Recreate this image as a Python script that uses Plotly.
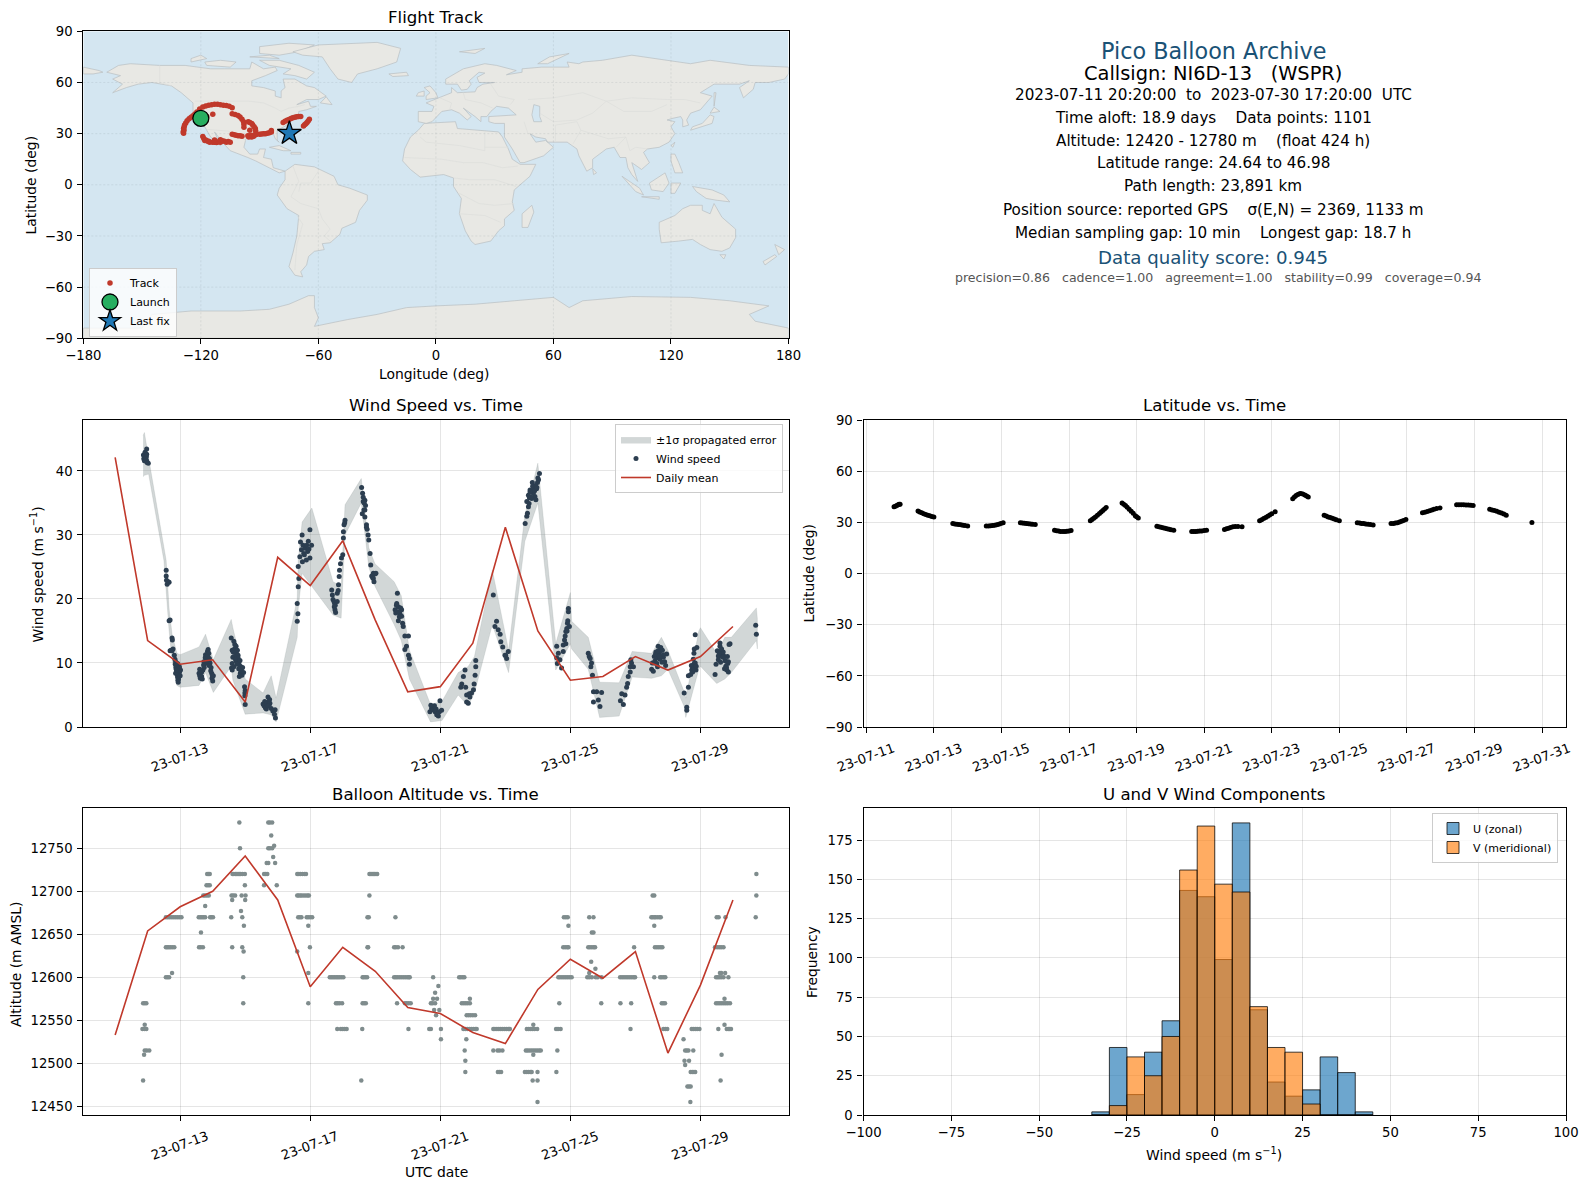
import pandas as pd
import plotly.graph_objects as go

W, H = 1589, 1189
FONT = "DejaVu Sans"

# ----- daily means -----
mean_day = [11, 12, 13, 14, 15, 16, 17, 18, 19, 20, 21, 22, 23, 24, 25, 26, 27, 28, 29, 30]
mean_wind = [42.1, 13.5, 9.8, 10.5, 3.9, 26.5, 22.1, 29.1, 16.7, 5.5, 6.3, 13.1, 31.2, 15.0, 7.3, 7.9, 11.0, 8.9, 11.0, 15.7]
mean_alt = [12533, 12654, 12682, 12700, 12741, 12690, 12589, 12635, 12607, 12565, 12558, 12536, 12523, 12586, 12621, 12599, 12630, 12512, 12591, 12690]

# ----- wind speed points -----
wind_day = [
    11.87, 11.88, 11.90, 11.90, 11.92, 11.93, 11.94, 11.96, 11.97, 11.97, 11.97, 11.98, 12.02,
    12.57, 12.57, 12.58, 12.60, 12.66, 12.63, 12.66, 12.69, 12.75, 12.76, 12.69, 12.75, 12.78, 12.72,
    12.82, 12.84, 12.86, 12.85, 12.87, 12.88, 12.89, 12.90, 12.91, 12.92, 12.93, 12.94, 12.95, 12.96, 12.97, 12.98, 13.00, 13.01,
    13.58, 13.60, 13.62, 13.64, 13.66, 13.68, 13.70, 13.72, 13.74, 13.76, 13.78, 13.80, 13.82, 13.84, 13.86, 13.88, 13.90, 13.92, 13.95, 13.97, 13.98, 14.00, 14.02,
    14.57, 14.65, 14.60, 14.63, 14.67, 14.70, 14.72, 14.74, 14.76, 14.78, 14.60, 14.58, 14.60, 14.65, 14.72, 14.78, 14.80, 14.85, 14.88, 14.92, 14.90, 14.85, 14.82, 14.95, 14.98, 15.00, 14.99, 14.99, 15.00,
    15.55, 15.58, 15.60, 15.62, 15.65, 15.67, 15.70, 15.72, 15.74, 15.76, 15.80, 15.85, 15.90, 15.93, 15.92,
    16.60, 16.60, 16.62, 16.63, 16.65, 16.63, 16.68, 16.75, 16.73, 16.78, 16.76, 16.84, 16.89, 16.94, 16.99, 16.99, 17.04, 16.92, 16.80,
    17.66, 17.68, 17.73, 17.76, 17.78, 17.70, 17.75, 17.83, 17.83, 17.86, 17.87, 17.89, 17.90, 17.93, 17.96, 18.00, 18.02, 18.02, 18.04, 18.07, 18.06,
    18.58, 18.61, 18.63, 18.68, 18.63, 18.68, 18.65, 18.60, 18.68, 18.73, 18.73, 18.75, 18.78, 18.80, 18.84, 18.86, 18.94, 18.89, 18.94, 18.99, 19.02, 18.96, 18.92,
    19.68, 19.66, 19.61, 19.71, 19.81, 19.76, 19.63, 19.81, 19.71, 19.84, 19.86, 19.91, 20.02, 19.96, 19.91, 20.02, 20.05, 20.05,
    20.68, 20.73, 20.78, 20.82, 20.84, 20.89, 20.94, 20.99, 21.04, 20.71, 20.87, 20.97, 20.91,
    21.76, 21.71, 21.66, 21.63, 21.78, 21.81, 21.86, 21.91, 21.96, 22.02, 22.04, 22.07, 22.09, 22.09, 21.81, 21.89,
    22.63, 22.73, 22.68, 22.78, 22.84, 22.86, 22.92, 22.99, 23.04, 23.09, 23.01,
    23.61, 23.66, 23.71, 23.66, 23.76, 23.83, 23.91, 23.96, 24.02, 24.05, 23.81, 23.86, 23.71, 23.78, 23.88, 23.94, 23.74,
    24.58, 24.63, 24.68, 24.73, 24.78, 24.82, 24.84, 24.89, 24.91, 24.94, 24.94, 24.97, 24.58, 24.78, 24.86, 24.60,
    25.55, 25.61, 25.63, 25.68, 25.71, 25.81, 25.96, 25.71, 25.86, 25.91, 25.58, 25.65,
    26.54, 26.58, 26.68, 26.63, 26.78, 26.84, 26.86, 26.94, 26.84, 26.88, 26.73, 26.76,
    27.50, 27.52, 27.58, 27.60, 27.63, 27.66, 27.70, 27.73, 27.75, 27.78, 27.80, 27.83, 27.86, 27.90, 27.93, 27.96, 27.68, 27.76, 27.55,
    28.50, 28.58, 28.58, 28.63, 28.63, 28.73, 28.81, 28.84, 28.89, 28.81, 28.78, 28.70, 28.76, 28.86, 28.80,
    29.45, 29.48, 29.55, 29.60, 29.66, 29.76, 29.81, 29.86, 29.91, 29.60, 29.55, 29.63, 29.72, 29.78, 29.84, 29.52, 29.70, 29.88,
    30.70, 30.72,
    # second pass over the dense clusters
    12.86, 12.89, 12.92, 12.95, 12.98, 13.60, 13.66, 13.73, 13.77, 13.81, 13.85, 13.89, 13.94, 13.99, 14.62, 14.66, 14.70, 14.75, 14.80, 14.84,
    14.87, 14.68, 15.64, 15.70, 15.75, 16.70, 16.82, 16.88, 16.96, 17.74, 17.77, 18.66, 18.70, 19.65, 19.70, 19.74, 19.78,
    23.68, 23.73, 23.76, 23.80, 23.84, 23.90, 23.93, 23.97, 23.99, 24.00, 24.86, 24.90, 24.92,
    27.58, 27.62, 27.66, 27.70, 27.74, 27.78, 27.82, 27.86, 28.72, 28.76, 28.79, 28.84, 28.87,
    29.58, 29.62, 29.65, 29.68, 29.74, 29.77, 29.80, 29.83, 29.86,
]
wind_ms = [
    42.5, 41.9, 41.6, 42.4, 42.9, 41.6, 41.9, 42.2, 42.6, 43.4, 41.6, 41.3, 41.2,
    24.5, 23.6, 22.9, 22.3, 22.6, 22.7, 16.6, 16.7, 13.9, 13.6, 11.9, 11.9, 12.2, 12.0,
    11.2, 10.6, 10.2, 9.8, 9.3, 9.0, 9.5, 8.7, 8.2, 7.8, 7.3, 7.0, 8.3, 9.0, 9.5, 8.6, 8.0, 8.9,
    8.4, 8.0, 7.6, 8.5, 7.9, 7.5, 8.9, 9.7, 9.3, 9.9, 11.3, 11.0, 10.5, 11.8, 12.1, 11.5, 10.7, 10.0, 9.3, 8.4, 7.6, 7.2, 8.0,
    13.9, 13.4, 12.0, 11.7, 12.2, 11.7, 12.6, 11.4, 12.0, 11.2, 9.9, 9.2, 8.9, 9.4, 10.3, 10.8, 9.9, 9.5, 9.0, 9.3, 8.1, 8.4, 7.9, 8.5, 6.3, 5.7, 5.3, 4.9, 3.5,
    3.6, 3.3, 4.0, 3.0, 2.8, 3.7, 4.7, 4.0, 3.5, 3.7, 2.9, 2.5, 2.0, 1.4, 2.7,
    16.5, 19.3, 17.7, 21.9, 23.2, 25.05, 26.6, 30.0, 27.7, 28.4, 25.8, 27.9, 28.4, 29.0, 30.8, 26.4, 28.4, 27.4, 27.1,
    21.4, 20.6, 19.6, 18.3, 17.9, 19.9, 19.3, 19.6, 20.9, 21.3, 22.2, 23.5, 24.5, 25.5, 26.4, 26.9, 29.5, 30.5, 31.6, 32.3, 31.9,
    37.4, 36.5, 35.9, 35.4, 35.2, 33.9, 33.9, 33.3, 32.8, 31.6, 31.2, 30.9, 30.0, 29.2, 27.1, 25.3, 24.0, 23.6, 23.2, 23.9, 24.0, 22.7, 23.3,
    20.9, 19.3, 18.3, 18.8, 18.3, 17.7, 17.8, 17.3, 16.6, 16.2, 15.7, 14.2, 14.2, 12.6, 12.1, 11.2, 10.7, 9.8,
    2.4, 2.9, 2.7, 3.3, 2.4, 1.9, 1.7, 4.1, 2.6, 3.4, 2.8, 2.4, 2.0,
    8.9, 7.9, 6.7, 6.2, 6.2, 5.0, 3.7, 4.7, 5.3, 5.8, 6.7, 8.1, 9.4, 10.4, 3.9, 5.2,
    20.6, 16.5, 15.7, 15.2, 14.5, 13.3, 12.5, 11.2, 10.7, 11.8, 11.2,
    31.8, 32.9, 34.4, 35.2, 37.0, 38.2, 36.0, 37.2, 38.6, 39.6, 35.7, 36.5, 36.2, 36.8, 37.1, 35.5, 35.8,
    12.6, 11.5, 10.5, 9.2, 12.8, 13.6, 14.2, 15.4, 16.2, 18.5, 18.0, 15.7, 10.8, 11.8, 13.0, 9.9,
    11.5, 10.7, 9.4, 8.1, 5.5, 5.5, 5.4, 3.9, 4.2, 3.2, 11.0, 10.0,
    4.1, 5.2, 5.0, 3.5, 7.9, 9.4, 10.5, 9.4, 8.6, 10.0, 6.2, 6.8,
    9.0, 10.0, 11.0, 10.3, 11.7, 10.8, 12.6, 11.5, 10.6, 12.2, 11.0, 12.0, 10.9, 10.2, 9.6, 11.4, 9.4, 11.9, 8.7,
    5.3, 3.1, 2.6, 6.2, 8.0, 8.9, 9.9, 14.4, 12.4, 12.2, 10.6, 8.2, 9.3, 8.9, 11.5,
    8.2, 9.8, 11.1, 12.6, 11.2, 10.4, 8.9, 8.6, 13.0, 13.1, 10.5, 11.8, 11.1, 9.5, 9.9, 11.9, 11.7, 12.9,
    15.9, 14.5,
    8.4, 8.9, 9.9, 7.5, 9.2, 9.0, 8.6, 10.2, 10.8, 10.0, 11.0, 9.6, 8.8, 8.0, 10.9, 11.0, 10.6, 9.8, 9.1, 10.4,
    8.7, 12.9, 3.0, 3.3, 4.3, 28.9, 26.9, 26.1, 27.8, 18.8, 19.0, 35.0, 34.6, 19.0, 18.0, 17.2, 18.6,
    33.4, 34.9, 36.7, 35.9, 37.6, 36.9, 37.7, 37.4, 38.2, 38.9, 14.9, 15.0, 16.6,
    10.0, 11.4, 9.9, 11.9, 11.1, 12.4, 10.1, 11.3, 9.6, 8.6, 9.1, 10.0, 9.5,
    11.5, 10.1, 12.2, 10.9, 9.1, 10.3, 9.3, 11.0, 10.2,
]

# outline of the +/-1 sigma band
band_day = [11.86, 11.90, 12.03, 12.50, 12.57, 12.66, 12.75, 12.90, 13.00, 13.58, 13.78, 14.02, 14.57, 14.62, 15.00, 15.55, 15.80, 15.95,
            16.60, 16.63, 16.75, 17.05, 17.70, 17.95, 18.07, 18.57, 18.80, 18.99, 19.58, 19.80, 20.05, 20.70, 21.05,
            21.55, 21.85, 22.05, 22.60, 23.10, 23.60, 24.00, 24.55, 25.00, 25.04, 25.55, 25.90, 26.50, 26.90,
            27.50, 27.80, 28.00, 28.50, 28.55, 28.95, 29.00, 29.50, 29.75, 29.95, 30.72, 30.75]
band_low = [39.1, 39.3, 39.5, 26.0, 21.5, 15.0, 10.5, 6.5, 6.2, 6.5, 8.5, 5.4, 9.5, 7.3, 2.0, 2.2, 1.9, 0.8,
            14.0, 18.5, 24.0, 22.0, 17.5, 17.0, 30.0, 35.0, 25.0, 22.0, 16.0, 13.5, 7.5, 0.8, 1.0,
            5.0, 3.3, 5.3, 16.0, 8.5, 29.0, 35.0, 8.9, 13.0, 12.2, 9.0, 1.5, 1.7, 7.8,
            7.6, 8.0, 9.0, 3.2, 1.5, 9.0, 9.5, 6.8, 7.5, 8.5, 13.5, 12.2]
band_high = [45.5, 46.0, 42.0, 28.5, 26.0, 18.5, 14.5, 11.5, 11.3, 12.5, 14.5, 10.5, 16.8, 15.5, 7.5, 5.3, 8.0, 4.5,
             20.0, 26.0, 32.0, 34.2, 22.7, 22.0, 34.7, 38.8, 28.0, 25.5, 22.7, 20.5, 12.0, 3.5, 4.0,
             8.5, 9.4, 11.0, 24.5, 12.0, 33.0, 41.2, 13.0, 21.0, 16.5, 14.0, 7.0, 6.9, 11.8,
             11.5, 14.0, 12.0, 5.5, 4.5, 15.0, 15.5, 11.5, 14.0, 14.0, 18.6, 17.0]

# ----- latitude vs time -----
lat_day = [
    11.82, 11.86, 11.90, 11.94, 11.97, 12.00,
    12.53, 12.58, 12.64, 12.70, 12.76, 12.82, 12.88, 12.94, 13.00,
    13.56, 13.62, 13.68, 13.74, 13.80, 13.86, 13.92, 14.00,
    14.55, 14.62, 14.68, 14.74, 14.80, 14.86, 14.92, 14.98, 15.05,
    15.56, 15.62, 15.68, 15.74, 15.80, 15.86, 15.92, 16.00,
    16.57, 16.63, 16.69, 16.75, 16.82, 16.88, 16.94, 17.00, 17.06,
    17.63, 17.68, 17.73, 17.78, 17.84, 17.90, 17.95, 18.00, 18.05, 18.10,
    18.57, 18.62, 18.67, 18.72, 18.78, 18.84, 18.90, 18.96, 19.00, 19.05,
    19.60, 19.66, 19.72, 19.78, 19.84, 19.90, 19.96, 20.02, 20.10,
    20.63, 20.69, 20.75, 20.81, 20.87, 20.93, 21.00, 21.07,
    21.60, 21.66, 21.72, 21.78, 21.85, 21.92, 22.00, 22.12,
    22.64, 22.70, 22.76, 22.82, 22.88, 22.94, 23.00, 23.10,
    23.62, 23.67, 23.72, 23.77, 23.82, 23.86, 23.92, 23.98, 24.03, 24.08,
    24.55, 24.61, 24.67, 24.73, 24.79, 24.85, 24.91, 25.00,
    25.53, 25.60, 25.66, 25.72, 25.78, 25.85, 25.92, 26.00,
    26.53, 26.60, 26.66, 26.72, 26.78, 26.84, 26.90, 26.97,
    27.46, 27.53, 27.60, 27.67, 27.74, 27.80, 27.88, 27.98,
    28.47, 28.54, 28.61, 28.68, 28.75, 28.82, 28.89, 28.96,
    29.45, 29.52, 29.59, 29.66, 29.73, 29.80, 29.87, 29.94,
    30.70,
]
lat_deg = [
    39.2, 39.6, 40.0, 40.4, 40.7, 40.8,
    36.8, 36.2, 35.7, 35.2, 34.7, 34.3, 34.0, 33.6, 33.3,
    29.4, 29.2, 29.0, 28.9, 28.7, 28.4, 28.2, 28.0,
    28.0, 28.0, 28.1, 28.2, 28.4, 28.7, 29.0, 29.4, 29.8,
    29.8, 29.7, 29.6, 29.5, 29.3, 29.1, 29.0, 28.8,
    25.5, 25.2, 25.0, 24.7, 24.7, 24.8, 24.9, 25.1, 25.3,
    31.0, 31.8, 32.5, 33.3, 34.3, 35.3, 36.2, 37.1, 38.0, 38.8,
    41.5, 40.8, 40.0, 39.0, 37.8, 36.6, 35.4, 34.0, 33.4, 32.7,
    27.8, 27.5, 27.2, 26.9, 26.6, 26.4, 26.1, 25.8, 25.5,
    24.7, 24.7, 24.8, 24.9, 25.0, 25.1, 25.3, 25.5,
    25.9, 26.3, 26.7, 27.1, 27.5, 27.6, 27.6, 27.5,
    31.0, 31.7, 32.4, 33.0, 33.7, 34.4, 35.1, 36.3,
    44.0, 45.0, 45.8, 46.5, 46.9, 47.0, 46.7, 46.2, 45.6, 45.0,
    34.3, 33.8, 33.3, 32.9, 32.5, 32.1, 31.7, 31.0,
    29.8, 29.7, 29.5, 29.4, 29.2, 29.0, 28.8, 28.6,
    29.4, 29.5, 29.7, 29.9, 30.3, 30.7, 31.2, 31.8,
    35.7, 36.1, 36.5, 36.9, 37.4, 37.8, 38.2, 38.6,
    40.4, 40.4, 40.4, 40.4, 40.3, 40.3, 40.1, 40.0,
    37.8, 37.4, 37.0, 36.6, 36.1, 35.6, 35.0, 34.3,
    30.0,
]

# ----- altitude points, one list of days per reported level -----
alt_levels = {
    12780: [14.82, 15.71, 15.76, 15.83],
    12765: [15.80],
    12753: [15.89],
    12750: [14.84, 15.71, 15.76, 15.83],
    12740: [15.86],
    12733: [15.66, 15.71, 15.92],
    12720: [13.83, 13.87, 13.91, 14.61, 14.65, 14.70, 14.74, 14.78, 14.82, 14.86, 14.92, 14.99, 15.58, 15.63, 15.68, 16.60, 16.65, 16.70,
            16.76, 16.82, 16.87, 18.82, 18.86, 18.90, 18.94, 18.98, 19.02, 19.06, 30.72],
    12707: [13.81, 13.86, 13.91, 14.99, 15.58, 15.97],
    12695: [13.71, 13.76, 13.82, 13.88, 14.58, 14.63, 14.69, 14.89, 15.01, 16.60, 16.64, 16.69, 16.74, 16.80, 16.86, 16.92, 16.96, 18.82, 27.53, 27.58, 30.72],
    12690: [14.60, 15.00],
    12683: [13.77],
    12677: [14.87],
    12670: [12.56, 12.62, 12.68, 12.74, 12.80, 12.86, 12.92, 12.98, 13.04, 13.57, 13.62, 13.67, 13.72, 13.77, 13.92, 13.96, 14.01, 14.57, 14.91,
            16.63, 16.68, 16.73, 16.89, 16.94, 17.00, 17.06, 18.76, 18.80, 19.62, 24.80, 24.86, 24.92, 25.58, 25.71,
            27.49, 27.53, 27.58, 27.62, 27.68, 27.74, 27.78, 29.50, 29.56, 29.77, 30.70],
    12660: [14.96, 16.94, 24.94, 27.58],
    12652: [13.64, 25.66, 25.71],
    12635: [12.56, 12.60, 12.65, 12.70, 12.76, 12.82, 13.58, 13.63, 13.70, 14.60, 14.91, 16.99, 18.76, 18.78, 19.58, 19.63, 19.70, 19.84,
            24.78, 24.84, 24.90, 24.94, 25.55, 25.60, 25.66, 25.72, 25.76, 26.96, 27.60, 27.66, 27.72, 27.78, 27.83, 29.45, 29.52, 29.58, 29.64, 29.71],
    12630: [14.95, 16.60],
    12618: [25.64],
    12610: [25.77],
    12605: [12.75, 16.94, 25.58, 29.60, 29.64, 29.76],
    12600: [12.56, 12.61, 12.66, 14.94, 17.60, 17.65, 17.70, 17.75, 17.80, 17.85, 17.90, 17.96, 18.02, 18.61, 18.65, 18.70, 18.75,
            19.58, 19.63, 19.68, 19.74, 19.80, 19.86, 19.92, 19.98, 20.03, 20.06, 20.78, 21.58, 21.63, 21.69, 21.74,
            24.63, 24.68, 24.74, 24.80, 24.86, 24.92, 24.98, 25.04, 25.52, 25.58, 25.66, 25.78, 25.84, 25.96,
            26.53, 26.59, 26.65, 26.71, 26.77, 26.83, 26.89, 26.95, 26.99, 27.58, 27.76, 27.81, 27.87, 27.92,
            29.48, 29.53, 29.58, 29.64, 29.71, 29.86],
    12590: [20.94],
    12582: [20.84],
    12575: [29.74, 20.78, 20.90, 21.91],
    12570: [11.86, 11.91, 11.96, 14.94, 16.94, 17.79, 17.84, 17.90, 17.98, 18.61, 18.66, 18.71, 19.67, 19.91, 19.96, 20.02, 20.09,
            20.71, 20.76, 20.84, 21.66, 21.72, 21.78, 21.84, 21.91, 24.66, 25.95, 26.54, 26.87, 27.81, 27.86, 27.91,
            29.48, 29.54, 29.60, 29.66, 29.72, 29.78, 29.84, 29.91],
    12562: [20.81, 20.97],
    12556: [20.87, 21.81, 21.87, 21.93, 22.00, 22.07],
    12545: [11.91, 23.86, 29.74],
    12540: [11.84, 11.90, 11.96, 17.83, 17.94, 18.00, 18.06, 18.12, 18.60, 20.02, 20.66, 20.71, 21.02, 21.71, 21.77, 21.83, 21.90, 21.96, 22.02, 22.08, 22.12,
            22.63, 22.68, 22.74, 22.80, 22.86, 22.92, 22.98, 23.04, 23.10, 23.14, 23.66, 23.72, 23.78, 23.84, 23.90, 23.98, 24.56, 24.62, 24.70,
            26.85, 27.86, 27.92, 27.98, 28.73, 28.78, 28.84, 28.90, 28.97, 29.55, 29.81, 29.86, 29.90, 29.94],
    12528: [21.02, 21.80, 28.48],
    12515: [11.91, 11.97, 12.05, 21.75, 22.63, 22.76, 22.82, 22.91, 23.63, 23.68, 23.74, 23.80, 23.86, 23.92, 23.98, 24.04, 24.09, 24.60, 28.53, 28.58, 28.63, 28.78],
    12510: [11.89, 23.86, 29.65],
    12503: [21.77, 28.51, 28.65],
    12498: [28.53],
    12490: [21.77, 22.77, 22.82, 22.87, 23.60, 23.66, 23.72, 23.78, 23.81, 23.99, 24.57, 28.70, 28.75, 28.80, 28.84],
    12480: [11.86, 18.57, 23.84, 23.99, 29.62],
    12473: [28.60, 28.65, 28.70],
    12455: [23.99, 28.69],
}

# ----- histogram -----
hist_bin = [-32.5, -27.5, -22.5, -17.5, -12.5, -7.5, -2.5, 2.5, 7.5, 12.5, 17.5, 22.5, 27.5, 32.5, 37.5, 42.5]
hist_u = [2, 43, 13, 40, 60, 143, 139, 99, 186, 67, 21, 12, 16, 37, 27, 2]
hist_v = [0, 6, 37, 25, 50, 156, 184, 147, 142, 69, 43, 40, 7, 0, 0, 0]

# ----- map track -----
track_lon = [-119.6, -117, -113.9,
             -128.8, -129, -128.6, -128.8, -128.5, -128.3, -127.7, -127, -126, -125, -124, -123, -122,
             -120.6, -119, -117.5, -116, -114.5, -113, -111.5, -110, -108.5, -107, -105.5, -104,
             -104, -102.5, -101, -100, -99, -98.2, -98, -98,
             -95.8, -95, -94, -93.5, -92.8, -92.2, -92, -92, -93, -94, -95.5, -95,
             -104, -103, -102, -101, -100, -99,
             -96, -95, -94, -93, -92,
             -90, -89, -88, -87, -86, -85, -84, -84,
             -119, -118.5, -117.5, -116.5, -115.5, -114, -113, -112, -111, -110, -109, -108, -107, -106, -105, -118, -116, -113, -110,
             -78, -77, -76, -75, -74, -73, -72, -71, -70, -69,
             -67.6, -67, -66.4, -65.8, -65.2, -64.6]
track_lat = [39, 40, 41.3,
             30.2, 31, 32, 33, 34, 35, 36.2, 37.5, 38.7, 39.6, 40.5, 41.5, 42.7,
             44.5, 45.6, 46.2, 46.7, 47, 47.2, 47.2, 47, 46.7, 46.5, 46, 45.2,
             41.7, 41.2, 40.6, 39.7, 38.5, 37, 35.5, 33.8,
             37, 36.5, 36, 35, 34, 33, 31.5, 29.5, 28.5, 28, 28, 32,
             29.7, 29.3, 29, 28.8, 28.7, 28.5,
             28.7, 28.7, 28.9, 29, 29.4,
             29.7, 29.8, 29.9, 30, 30.2, 30.5, 31, 31.8,
             28.3, 27.2, 26.3, 25.6, 25, 24.9, 25, 24.8, 25.2, 25, 25.8, 25.6, 25, 25.4, 25,
             26, 25.6, 26.2, 26.4,
             36.5, 37.2, 37.8, 38.3, 38.8, 39.3, 39.6, 39.9, 40, 40,
             34.5, 35.2, 35.8, 36.6, 37.4, 38.4]
launch_lon, launch_lat = [-120], [39]
last_lon, last_lat = [-74.8], [30.2]

# ----- land outlines -----
land = {
    "north_america": [(-168, 66), (-165, 68), (-162, 70), (-156, 71), (-141, 70), (-128, 70), (-115, 68), (-108, 68), (-95, 68), (-94, 72), (-88, 68), (-82, 69), (-81, 67), (-87, 64), (-94, 61), (-94, 58), (-88, 57), (-82, 55), (-82, 52), (-79, 51), (-79, 55), (-77, 57), (-78, 62), (-72, 62), (-66, 58), (-62, 57), (-56, 52), (-60, 50), (-66, 50), (-71, 47), (-65, 49), (-64, 46), (-61, 46), (-66, 44), (-70, 43), (-70, 41.5), (-74, 40.5), (-76, 37), (-76, 35), (-81, 32), (-81, 26), (-80, 25), (-82, 27), (-83, 30), (-90, 30), (-94, 29), (-97, 27), (-98, 22), (-95, 18), (-91, 18), (-90, 21), (-87, 21), (-88, 16), (-84, 15), (-83, 10), (-80, 9), (-77, 8), (-80, 7), (-85, 10), (-92, 14), (-96, 16), (-105, 20), (-109, 25), (-113, 31), (-110, 23), (-115, 28), (-118, 34), (-123, 38), (-124, 43), (-124, 48), (-130, 54), (-135, 58), (-145, 60), (-152, 59), (-158, 57), (-165, 54), (-160, 59), (-165, 62), (-161, 64)],
    "baffin": [(-80, 73), (-70, 70), (-62, 66), (-66, 62), (-72, 64), (-78, 65), (-74, 68), (-85, 70), (-90, 73)],
    "victoria": [(-117, 70), (-105, 69), (-102, 72), (-110, 73), (-118, 72)],
    "ellesmere": [(-90, 77), (-80, 76), (-70, 78), (-62, 82), (-75, 83), (-90, 81)],
    "banks": [(-125, 72), (-117, 74), (-120, 76), (-125, 74)],
    "devon": [(-95, 75), (-80, 74), (-85, 76)],
    "greenland": [(-73, 78), (-60, 82), (-30, 83.5), (-18, 80), (-20, 72), (-30, 68), (-40, 65), (-43, 60), (-50, 62), (-54, 68), (-58, 75), (-68, 76)],
    "newfoundland": [(-59, 48), (-53, 47), (-56, 51.6)],
    "cuba": [(-85, 22), (-80, 23), (-74, 20), (-78, 20)],
    "hispaniola": [(-74, 19), (-69, 19), (-69, 18), (-74, 18)],
    "south_america": [(-77, 8), (-72, 12), (-62, 10.5), (-52, 5), (-50, 0), (-44, -2), (-35, -6), (-35, -9), (-39, -15), (-41, -22), (-48, -25.5), (-49, -29), (-54, -34), (-58, -34.5), (-57, -38), (-62, -39), (-65, -42), (-66, -47), (-69, -51), (-68, -54), (-72, -53), (-75, -48), (-73, -40), (-71, -30), (-70, -18), (-76, -14), (-81, -6), (-80, -2), (-77, 3)],
    "africa": [(-6, 36), (10, 37), (11, 33), (20, 32), (25, 31.5), (32, 31), (34, 28), (37, 21), (39, 15), (43, 12), (51, 12), (48, 5), (40, -3), (39, -10), (40, -15), (35, -20), (35, -24), (32, -27), (28, -33), (20, -35), (18, -33), (15, -27), (12, -17), (13, -8), (9, -1), (9, 4), (4, 6), (-4, 5), (-8, 4.5), (-13, 9), (-17, 14), (-16, 21), (-13, 28), (-9, 32)],
    "madagascar": [(49, -12), (50, -16), (47, -25), (44, -25), (44, -17)],
    "eurasia": [(-9, 37), (-9, 43), (-2, 43), (-1, 46), (-5, 48), (2, 51), (8, 54), (8, 57), (11, 54), (20, 54.5), (21, 57), (24, 59), (30, 60), (22, 60), (21, 63), (25, 65.5), (22, 66), (17, 61), (18, 59), (16, 56), (13, 55.5), (11, 59), (5, 59), (5, 62), (14, 68), (25, 71), (31, 70), (41, 67), (36, 64.5), (44, 66), (44, 68), (54, 69), (68, 69), (67, 72), (73, 71), (75, 72), (85, 73), (100, 76), (113, 74), (130, 71), (140, 73), (160, 70), (180, 69), (180, 65), (178, 62), (170, 60), (163, 60), (162, 56), (157, 51), (155, 57), (160, 61), (155, 59), (142, 59), (135, 54), (141, 52), (135, 44), (130, 42), (128, 38), (129, 35), (126, 34), (126, 38), (125, 40), (121, 39), (118, 38), (122, 37), (120, 34), (122, 30), (119, 25), (114, 22), (108, 21), (106, 19), (109, 13), (105, 9), (100, 13), (103, 2), (100, 6), (98, 10), (97, 16), (94, 16), (91, 22), (87, 21), (80, 15), (80, 10), (77, 8), (73, 17), (72, 21), (67, 25), (57, 25), (56, 27), (51, 28), (48, 30), (51, 25), (56, 26), (60, 22), (55, 17), (45, 13), (43, 13), (39, 21), (35, 28), (35, 36), (30, 36), (27, 37), (27, 40), (41, 41), (37, 45), (31, 46), (28, 43), (26, 40), (23, 40), (23, 37), (20, 40), (14, 45), (18, 40), (16, 38), (12, 42), (8, 44), (3, 43), (0, 39), (-2, 37), (-5, 36)],
    "chukotka": [(-180, 69), (-172, 67), (-170, 66), (-175, 65), (-180, 65)],
    "uk": [(-5, 50), (1, 51), (0, 54), (-3, 58), (-6, 57), (-3, 54), (-5, 52)],
    "ireland": [(-10, 52), (-6, 52), (-6, 55), (-9, 54)],
    "iceland": [(-24, 65), (-15, 66), (-14, 64), (-22, 63.5)],
    "svalbard": [(12, 78), (25, 80), (20, 77)],
    "novaya_zemlya": [(52, 71), (57, 71), (68, 77), (58, 75)],
    "sri_lanka": [(80, 9.5), (82, 7), (80.5, 6)],
    "sumatra": [(95, 5), (104, -2), (106, -6), (102, -4)],
    "java": [(105, -7), (114, -7), (114, -8.5), (106, -7.5)],
    "borneo": [(109, 1), (117, 7), (119, 1), (116, -4), (110, -3)],
    "sulawesi": [(120, 1), (125, 1), (122, -5), (120, -5)],
    "new_guinea": [(131, -1), (141, -3), (147, -6), (150, -10), (143, -9), (138, -8), (133, -4)],
    "philippines": [(120, 18), (122, 18), (124, 13), (126, 7), (122, 7), (120, 14)],
    "honshu": [(130, 32), (136, 34), (141, 36), (142, 40), (140, 41), (136, 36), (131, 34)],
    "hokkaido": [(140, 42), (145, 43), (142, 45.5)],
    "sakhalin": [(142, 46), (143, 54), (142, 54)],
    "taiwan": [(120, 23), (122, 25), (121, 22)],
    "australia": [(114, -22), (122, -18), (126, -14), (130, -12), (136, -12), (136, -15), (140, -17), (142, -11), (146, -19), (153, -26), (153, -31), (150, -37), (146, -39), (140, -38), (135, -35), (131, -32), (124, -33), (115, -34), (114, -26)],
    "tasmania": [(145, -41), (148, -41), (147, -43.5)],
    "nz_north": [(173, -35), (178, -38), (175, -41)],
    "nz_south": [(173, -41), (174, -42), (168, -47), (167, -45)],
    "antarctica": [(-180, -90), (-180, -84), (-150, -84), (-145, -76), (-125, -74), (-100, -74), (-85, -73), (-75, -70), (-65, -65), (-62, -65), (-62, -72), (-60, -78), (-62, -83), (-45, -79), (-30, -76), (-15, -72), (0, -71), (20, -70), (40, -68), (60, -66), (68, -72), (75, -68), (100, -65.5), (130, -66), (150, -68), (170, -71), (160, -76), (163, -80), (180, -84), (180, -90)],
}
caspian = [(50, 47), (53, 46), (53, 40), (54, 37), (50, 37), (49, 41)]

borders = [
    [(-123, 49), (-95, 49), (-88, 48), (-82, 45), (-79, 43), (-75, 45), (-70, 46), (-67, 47)],
    [(-141, 70), (-141, 60), (-135, 58)],
    [(-117, 32.5), (-106, 31.5), (-97, 26)],
    [(-73, 11), (-70, 2), (-74, -7), (-69, -11), (-60, -14), (-58, -20), (-54, -26), (-57, -30), (-53, -34)],
    [(-71, -18), (-68, -23), (-71, -35), (-72, -50)],
    [(-60, 8), (-64, 1), (-69, 1), (-70, -4)],
    [(-8, 28), (-5, 25), (12, 23), (25, 20), (25, 31)],
    [(25, 22), (37, 22)],
    [(-16, 16), (3, 15), (14, 13), (24, 13), (34, 10), (42, 11)],
    [(9, 4), (17, 3), (30, 3), (41, -1)],
    [(12, -5), (22, -11), (30, -12), (40, -11)],
    [(12, -17), (25, -18), (33, -22)],
    [(2, 51), (8, 48), (7, 44)],
    [(14, 54), (15, 50), (23, 48), (29, 45)],
    [(28, 59), (32, 52), (40, 50), (38, 47)],
    [(47, 50), (60, 51), (75, 54), (87, 49), (100, 51), (118, 50), (127, 50), (135, 48)],
    [(87, 49), (96, 43), (110, 43), (118, 47)],
    [(53, 42), (60, 37), (72, 38), (80, 42), (87, 49)],
    [(45, 37), (47, 30)],
    [(61, 25), (61, 35), (72, 37), (74, 32), (70, 24)],
    [(74, 32), (80, 30), (88, 27), (97, 28), (92, 22)],
    [(97, 28), (99, 20), (102, 22), (108, 21)],
]

graticule_lon = [-120, -60, 0, 60, 120]
graticule_lat = [-60, -30, 0, 30, 60]


def to_date(days):
    return pd.Timestamp("2023-07-01") + pd.to_timedelta([d - 1 for d in days], unit="D")


def dom_x(left, right):
    return [left / W, right / W]


def dom_y(top, bottom):
    return [1 - bottom / H, 1 - top / H]


fig = go.Figure()

# map panel: land, coast, graticule, track
for name, pts in land.items():
    fig.add_trace(go.Scatter(x=[p[0] for p in pts] + [pts[0][0]], y=[p[1] for p in pts] + [pts[0][1]],
                             mode="lines", fill="toself", fillcolor="#e8e8e4",
                             line=dict(color="#b9bfc2", width=0.7), hoverinfo="skip", showlegend=False, xaxis="x", yaxis="y"))
fig.add_trace(go.Scatter(x=[p[0] for p in caspian] + [caspian[0][0]], y=[p[1] for p in caspian] + [caspian[0][1]],
                         mode="lines", fill="toself", fillcolor="#d4e6f1",
                         line=dict(color="#b9bfc2", width=0.7), showlegend=False, xaxis="x", yaxis="y"))
for seg in borders:
    fig.add_trace(go.Scatter(x=[p[0] for p in seg], y=[p[1] for p in seg], mode="lines",
                             line=dict(color="#dcdedb", width=0.7), showlegend=False, xaxis="x", yaxis="y"))
for lon in graticule_lon:
    fig.add_trace(go.Scatter(x=[lon, lon], y=[-90, 90], mode="lines", line=dict(color="rgba(120,130,135,0.22)", width=0.7, dash="2px,2px"),
                             showlegend=False, xaxis="x", yaxis="y"))
for lat in graticule_lat:
    fig.add_trace(go.Scatter(x=[-180, 180], y=[lat, lat], mode="lines", line=dict(color="rgba(120,130,135,0.22)", width=0.7, dash="2px,2px"),
                             showlegend=False, xaxis="x", yaxis="y"))
fig.add_trace(go.Scatter(x=track_lon, y=track_lat, mode="markers", name="Track", marker=dict(color="#c0392b", size=5.5),
                         xaxis="x", yaxis="y", legend="legend"))
fig.add_trace(go.Scatter(x=launch_lon, y=launch_lat, mode="markers", name="Launch",
                         marker=dict(color="#27ae60", size=16, line=dict(color="black", width=1.3)), xaxis="x", yaxis="y", legend="legend"))
fig.add_trace(go.Scatter(x=last_lon, y=last_lat, mode="markers", name="Last fix",
                         marker=dict(color="#1f77b4", size=18, symbol="star", line=dict(color="black", width=1.3)), xaxis="x", yaxis="y", legend="legend"))

# wind speed
band_x = list(to_date(band_day)) + list(to_date(band_day))[::-1]
fig.add_trace(go.Scatter(x=band_x, y=band_high + band_low[::-1], mode="lines", fill="toself", fillcolor="rgba(127,140,141,0.35)",
                         line=dict(width=0.5, color="rgba(127,140,141,0.35)"), name="±1σ propagated error",
                         xaxis="x2", yaxis="y2", legend="legend2"))
fig.add_trace(go.Scatter(x=to_date(wind_day), y=wind_ms, mode="markers", name="Wind speed", marker=dict(color="#2c3e50", size=5),
                         xaxis="x2", yaxis="y2", legend="legend2"))
fig.add_trace(go.Scatter(x=to_date(mean_day), y=mean_wind, mode="lines", name="Daily mean", line=dict(color="#c0392b", width=1.6),
                         xaxis="x2", yaxis="y2", legend="legend2"))

# latitude
fig.add_trace(go.Scatter(x=to_date(lat_day), y=lat_deg, mode="markers", marker=dict(color="black", size=5),
                         showlegend=False, xaxis="x3", yaxis="y3"))

# altitude
alt_day = [d for days in alt_levels.values() for d in days]
alt_m = [lvl for lvl, days in alt_levels.items() for _ in days]
fig.add_trace(go.Scatter(x=to_date(alt_day), y=alt_m, mode="markers", marker=dict(color="#7f8c8d", size=4.5),
                         showlegend=False, xaxis="x4", yaxis="y4"))
fig.add_trace(go.Scatter(x=to_date(mean_day), y=mean_alt, mode="lines", line=dict(color="#c0392b", width=1.6),
                         showlegend=False, xaxis="x4", yaxis="y4"))

# histogram
fig.add_trace(go.Bar(x=hist_bin, y=hist_u, width=5, name="U (zonal)", marker=dict(color="rgba(31,119,180,0.65)", line=dict(color="rgba(0,0,0,0.75)", width=1)),
                     xaxis="x5", yaxis="y5", legend="legend3"))
fig.add_trace(go.Bar(x=hist_bin, y=hist_v, width=5, name="V (meridional)", marker=dict(color="rgba(255,127,14,0.65)", line=dict(color="rgba(0,0,0,0.75)", width=1)),
                     xaxis="x5", yaxis="y5", legend="legend3"))

DAY_MS = 86400000
axis_style = dict(showline=True, mirror=True, linecolor="black", linewidth=1.2, ticks="outside", ticklen=5, tickcolor="black", automargin=False,
                  tickfont=dict(size=13.2, color="black"), gridcolor="rgba(0,0,0,0.1)", zeroline=False)
y_style = dict(ticklabelstandoff=2, **axis_style)
date_x = dict(type="date", tickformat="%y-%m-%d", tickangle=-20, ticklabelshift=27, ticklabelstandoff=3, **axis_style)

L1, R1 = 83.3, 788.5
L2, R2 = 863.5, 1566
wind_range = ["2023-07-10 00:30", "2023-07-31 17:00"]
legend_style = dict(bgcolor="rgba(255,255,255,0.8)", bordercolor="#cccccc", borderwidth=1, font=dict(size=11), itemwidth=30, tracegroupgap=0)

fig.update_layout(
    width=W, height=H, margin=dict(l=0, r=0, t=0, b=0, autoexpand=False), paper_bgcolor="white", plot_bgcolor="white",
    font=dict(family=FONT, color="black"), barmode="overlay",
    xaxis=dict(domain=dom_x(L1, R1), range=[-180, 180], tickvals=[-180, -120, -60, 0, 60, 120, 180], ticktext=["−180", "−120", "−60", "0", "60", "120", "180"],
               anchor="y", showgrid=False, **axis_style),
    yaxis=dict(domain=dom_y(31.3, 338.3), range=[-90, 90], tickvals=[-90, -60, -30, 0, 30, 60, 90], ticktext=["−90", "−60", "−30", "0", "30", "60", "90"],
               anchor="x", showgrid=False, **y_style),
    xaxis2=dict(domain=dom_x(L1, R1), range=wind_range, tick0="2023-07-13", dtick=4 * DAY_MS, anchor="y2", **date_x),
    yaxis2=dict(domain=dom_y(420.3, 727), range=[0, 47.9], tickvals=[0, 10, 20, 30, 40], anchor="x2", **y_style),
    xaxis3=dict(domain=dom_x(L2, R2), range=["2023-07-10 22:00", "2023-07-31 17:00"], tick0="2023-07-11", dtick=2 * DAY_MS, anchor="y3", **date_x),
    yaxis3=dict(domain=dom_y(420.3, 727), range=[-90, 90], tickvals=[-90, -60, -30, 0, 30, 60, 90], ticktext=["−90", "−60", "−30", "0", "30", "60", "90"],
                anchor="x3", **y_style),
    xaxis4=dict(domain=dom_x(L1, R1), range=wind_range, tick0="2023-07-13", dtick=4 * DAY_MS, anchor="y4", **date_x),
    yaxis4=dict(domain=dom_y(808.3, 1115), range=[12440, 12796.5], tickvals=[12450, 12500, 12550, 12600, 12650, 12700, 12750],
                tickformat="d", anchor="x4", **y_style),
    xaxis5=dict(domain=dom_x(L2, R2), range=[-100, 100], tickvals=[-100, -75, -50, -25, 0, 25, 50, 75, 100],
                ticktext=["−100", "−75", "−50", "−25", "0", "25", "50", "75", "100"], anchor="y5", **axis_style),
    yaxis5=dict(domain=dom_y(808.3, 1115), range=[0, 195.3], tickvals=[0, 25, 50, 75, 100, 125, 150, 175], anchor="x5", **y_style),
    legend=dict(x=89 / W, y=1 - 336.5 / H, xanchor="left", yanchor="bottom", **legend_style),
    legend2=dict(x=783 / W, y=1 - 424 / H, xanchor="right", yanchor="top", **legend_style),
    legend3=dict(x=1558 / W, y=1 - 813 / H, xanchor="right", yanchor="top", **legend_style),
    shapes=[dict(type="rect", xref="x", yref="y", x0=-180, x1=180, y0=-90, y1=90, layer="below", fillcolor="#d4e6f1", line=dict(width=0))],
)

titles = [("Flight Track", 435.8, 17.3), ("Wind Speed vs. Time", 435.8, 405.5), ("Latitude vs. Time", 1214, 405.5),
          ("Balloon Altitude vs. Time", 435.8, 794.5), ("U and V Wind Components", 1214, 794.5)]
for text, px, py in titles:
    fig.add_annotation(x=px / W, y=1 - py / H, xref="paper", yref="paper", text=text, showarrow=False,
                       font=dict(size=16.6, color="black"), xanchor="center", yanchor="middle")

axis_titles = [("Longitude (deg)", 435, 374, 0), ("Latitude (deg)", 30.5, 185, -90), ("Wind speed (m s<sup>−1</sup>)", 37.5, 575, -90),
               ("Latitude (deg)", 809, 573.6, -90), ("Altitude (m AMSL)", 15.5, 964.5, -90), ("Frequency", 812, 962, -90),
               ("UTC date", 436, 1171.5, 0), ("Wind speed (m s<sup>−1</sup>)", 1214, 1154, 0)]
for text, px, py, angle in axis_titles:
    fig.add_annotation(x=px / W, y=1 - py / H, xref="paper", yref="paper", text=text, showarrow=False, textangle=angle,
                       font=dict(size=13.9, color="black"), xanchor="center", yanchor="middle")

# info panel
info_lines = [
    ("Pico Balloon Archive", 1213, 50.7, 22.3, "#1a5276"),
    ("Callsign: NI6D-13   (WSPR)", 1213, 73, 19.4, "black"),
    ("2023-07-11 20:20:00  to  2023-07-30 17:20:00  UTC", 1213, 94.6, 15.2, "black"),
    ("Time aloft: 18.9 days    Data points: 1101", 1213, 117.6, 15.2, "black"),
    ("Altitude: 12420 - 12780 m    (float 424 h)", 1213, 140.9, 15.2, "black"),
    ("Latitude range: 24.64 to 46.98", 1213, 163.2, 15.2, "black"),
    ("Path length: 23,891 km", 1213, 186.5, 15.2, "black"),
    ("Position source: reported GPS    σ(E,N) = 2369, 1133 m", 1213, 209.8, 15.2, "black"),
    ("Median sampling gap: 10 min    Longest gap: 18.7 h", 1213, 232.6, 15.2, "black"),
    ("Data quality score: 0.945", 1213, 257.4, 18.2, "#1a5276"),
    ("precision=0.86   cadence=1.00   agreement=1.00   stability=0.99   coverage=0.94", 1218, 277.7, 12.56, "#555555"),
]
for text, px, py, size, color in info_lines:
    fig.add_annotation(x=px / W, y=1 - py / H, xref="paper", yref="paper", text=text.replace("    ", "\u00a0\u00a0\u00a0\u00a0").replace("   ", "\u00a0\u00a0\u00a0").replace("  ", "\u00a0\u00a0"),
                       showarrow=False, font=dict(size=size, color=color), xanchor="center", yanchor="middle")

fig.write_html("out.html", config={"displayModeBar": False}, post_script="document.body.style.margin='0';")
